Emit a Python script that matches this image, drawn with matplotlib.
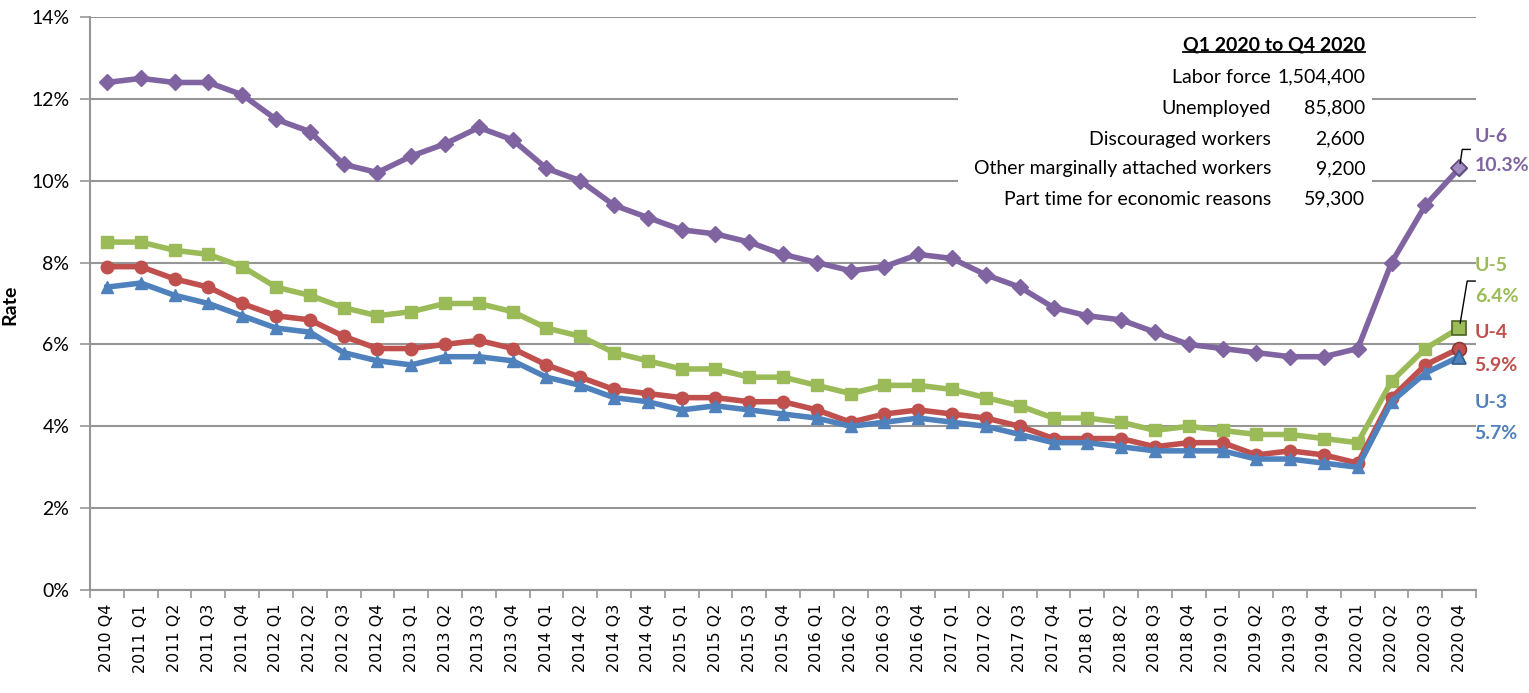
import numpy as np
import matplotlib.pyplot as plt
from matplotlib.patches import Rectangle
from matplotlib.ticker import FixedLocator, FuncFormatter

# quarters 2010 Q4 .. 2020 Q4
quarters = ["2010 Q4"] + [f"{y} Q{q}" for y in range(2011, 2021) for q in range(1, 5)]

u6 = [12.4, 12.5, 12.4, 12.4, 12.1, 11.5, 11.2, 10.4, 10.2, 10.6, 10.9, 11.3, 11.0,
      10.3, 10.0, 9.4, 9.1, 8.8, 8.7, 8.5, 8.2, 8.0, 7.8, 7.9, 8.2, 8.1, 7.7, 7.4,
      6.9, 6.7, 6.6, 6.3, 6.0, 5.9, 5.8, 5.7, 5.7, 5.9, 8.0, 9.4, 10.3]
u5 = [8.5, 8.5, 8.3, 8.2, 7.9, 7.4, 7.2, 6.9, 6.7, 6.8, 7.0, 7.0, 6.8,
      6.4, 6.2, 5.8, 5.6, 5.4, 5.4, 5.2, 5.2, 5.0, 4.8, 5.0, 5.0, 4.9, 4.7, 4.5,
      4.2, 4.2, 4.1, 3.9, 4.0, 3.9, 3.8, 3.8, 3.7, 3.6, 5.1, 5.9, 6.4]
u4 = [7.9, 7.9, 7.6, 7.4, 7.0, 6.7, 6.6, 6.2, 5.9, 5.9, 6.0, 6.1, 5.9,
      5.5, 5.2, 4.9, 4.8, 4.7, 4.7, 4.6, 4.6, 4.4, 4.1, 4.3, 4.4, 4.3, 4.2, 4.0,
      3.7, 3.7, 3.7, 3.5, 3.6, 3.6, 3.3, 3.4, 3.3, 3.1, 4.7, 5.5, 5.9]
u3 = [7.4, 7.5, 7.2, 7.0, 6.7, 6.4, 6.3, 5.8, 5.6, 5.5, 5.7, 5.7, 5.6,
      5.2, 5.0, 4.7, 4.6, 4.4, 4.5, 4.4, 4.3, 4.2, 4.0, 4.1, 4.2, 4.1, 4.0, 3.8,
      3.6, 3.6, 3.5, 3.4, 3.4, 3.4, 3.2, 3.2, 3.1, 3.0, 4.6, 5.3, 5.7]

table_title = "Q1 2020 to Q4 2020"
table_labels = ["Labor force", "Unemployed", "Discouraged workers",
                "Other marginally attached workers", "Part time for economic reasons"]
table_values = ["1,504,400", "85,800", "2,600", "9,200", "59,300"]

# name, values, colour, marker, last-point edge, last-point face
series = [
    ("U-6", u6, "#8064A2", "D", "#5E4A7D", "#A08CC0"),
    ("U-5", u5, "#9BBB59", "s", "#4F6228", "#9BBB59"),
    ("U-4", u4, "#C0504D", "o", "#8C3836", "#C0504D"),
    ("U-3", u3, "#4F81BD", "^", "#385D8A", "#4F81BD"),
]
# end label placement (axes fraction)
label_y = {"U-6": (0.792, 0.740), "U-5": (0.567, 0.513),
           "U-4": (0.449, 0.391), "U-3": (0.328, 0.274)}

calibri = ["Lato", "DejaVu Sans"]

fig = plt.figure(figsize=(15.29, 6.93), dpi=100)
ax = fig.add_axes([0.0589, 0.1486, 0.9065, 0.8269])

x = np.arange(len(quarters))
grid_c = "#969696"

for name, vals, col, mk, edge, face in series:
    ax.plot(x, vals, color=col, lw=4, marker=mk, ms=9 if mk != "D" else 8,
            markerfacecolor=col, markeredgecolor=col, zorder=3)
    ax.plot(x[-1:], vals[-1:], linestyle="none", marker=mk, ms=10 if mk != "D" else 8,
            markerfacecolor=face, markeredgecolor=edge, markeredgewidth=1.2, zorder=4)
    y1, y2 = label_y[name]
    ax.text(0.999, y1, name, transform=ax.transAxes, color=col, fontsize=14,
            fontweight="bold", family=calibri, va="center", ha="left")
    ax.text(0.999, y2, f"{vals[-1]:.1f}%", transform=ax.transAxes, color=col,
            fontsize=14, fontweight="bold", family=calibri, va="center", ha="left")

ax.set_xlim(-0.5, len(quarters) - 0.5)
ax.set_ylim(0, 14)
ax.set_yticks(np.arange(0, 15, 2))
ax.yaxis.set_major_formatter(FuncFormatter(lambda v, p: f"{v:.0f}%"))
ax.set_xticks(x)
ax.set_xticklabels(quarters, rotation=90, fontsize=11.5)
ax.xaxis.set_minor_locator(FixedLocator(np.arange(-0.5, len(quarters), 1)))
ax.tick_params(axis="x", which="major", length=0, pad=10)
ax.tick_params(axis="x", which="minor", length=6, color=grid_c, width=1.2)
ax.tick_params(axis="y", length=7, color=grid_c, width=1.2, labelsize=14, pad=8)
for lbl in ax.get_yticklabels():
    lbl.set_family(calibri)

ax.grid(axis="y", color=grid_c, lw=1.5, zorder=0)
ax.set_axisbelow(True)
for s in ("top", "right"):
    ax.spines[s].set_visible(False)
for s in ("left", "bottom"):
    ax.spines[s].set_color(grid_c)
    ax.spines[s].set_linewidth(1.5)

ax.set_ylabel("Rate", fontsize=14, fontweight="bold", family=calibri)
ax.yaxis.set_label_coords(-0.052, 0.497)

# leader lines for the U-6 and U-5 labels (pixel offsets from the last point)
fig.canvas.draw()
inv = ax.transData.inverted()
for vals, dx, dy in ((u6, 3, 19), (u5, 8, 47)):
    px, py = ax.transData.transform((x[-1], vals[-1]))
    pts = inv.transform([(px + 1, py + 5), (px + dx, py + dy), (px + dx + 8, py + dy)])
    ax.plot(pts[:, 0], pts[:, 1], color="black", lw=1, clip_on=False, zorder=5)

# summary table with white background over the grid
ax.add_patch(Rectangle((0.626, 0.654), 0.299, 0.33, transform=ax.transAxes,
                       facecolor="white", edgecolor="none", zorder=1))
title = ax.text(0.920, 0.951, table_title, transform=ax.transAxes, ha="right", va="center",
                fontsize=14, fontweight="bold", family=calibri, zorder=2)
rows_y = [0.895, 0.841, 0.787, 0.735, 0.682]
for ry, lab, val in zip(rows_y, table_labels, table_values):
    ax.text(0.852, ry, lab, transform=ax.transAxes, ha="right", va="center",
            fontsize=14, family=calibri, zorder=2)
    ax.text(0.920, ry, val, transform=ax.transAxes, ha="right", va="center",
            fontsize=14, family=calibri, zorder=2)

fig.canvas.draw()
bb = title.get_window_extent().transformed(ax.transAxes.inverted())
ax.plot([bb.x0, bb.x1], [bb.y0 + 0.003, bb.y0 + 0.003], transform=ax.transAxes,
        color="black", lw=1.3, zorder=2)

fig.savefig("out.png", dpi=100)
